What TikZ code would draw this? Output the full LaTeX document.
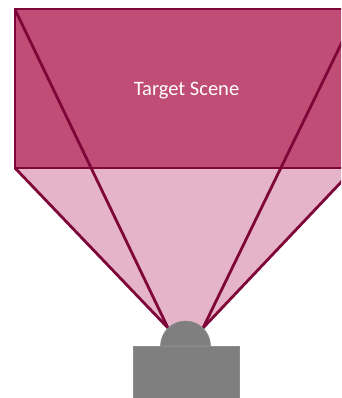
\documentclass[tikz,border=0pt]{standalone}
\usepackage{fontspec}
\setmainfont{Carlito}
\definecolor{scenefill}{HTML}{C04D75}
\definecolor{conefill}{HTML}{E6B4C8}
\definecolor{edgecol}{HTML}{7E0638}
\definecolor{camgray}{HTML}{7F7F7F}
\definecolor{camedge}{HTML}{8C8C8C}
\tikzset{
  x=1pt,y=-1pt,
  ray/.style={draw=edgecol,line width=2.8pt},
  camera/.style={fill=camgray,draw=camedge,line width=0.6pt},
}
\begin{document}
\begin{tikzpicture}
\path[use as bounding box] (0,0) rectangle (341,398);
\clip (0,0) rectangle (341,398);
\coordinate (sceneTL) at (15,9.5);
\coordinate (sceneBL) at (15,168);
\coordinate (sceneTR) at (345,9.5);
\coordinate (sceneBR) at (345,168);
\coordinate (lensL) at (168,328);
\coordinate (lensR) at (203,328);
\coordinate (outerR) at (345,178);
\coordinate (innerR) at (345,36);
\fill[conefill] (sceneBL) -- (lensL) -- (lensR) -- (outerR) -- (sceneBR) -- cycle;
\fill[scenefill] (sceneTL) rectangle (sceneBR);
\draw[draw=edgecol,line width=2pt] (sceneBR) -- (sceneBL) -- (sceneTL) -- (sceneTR);
\draw[ray] (sceneTL) -- (lensL);
\draw[ray] (sceneBL) -- (lensL);
\draw[ray] (innerR) -- (lensR);
\draw[ray] (outerR) -- (lensR);
\draw[camera] (160.5,346) arc[start angle=180,end angle=360,radius=25] -- cycle;
\draw[camera] (133.7,346) rectangle (238.8,402);
\node[text=white,font=\fontsize{20.5}{22}\selectfont,inner sep=0pt] (label) at (186.5,91) {Target Scene};
\end{tikzpicture}
\end{document}
